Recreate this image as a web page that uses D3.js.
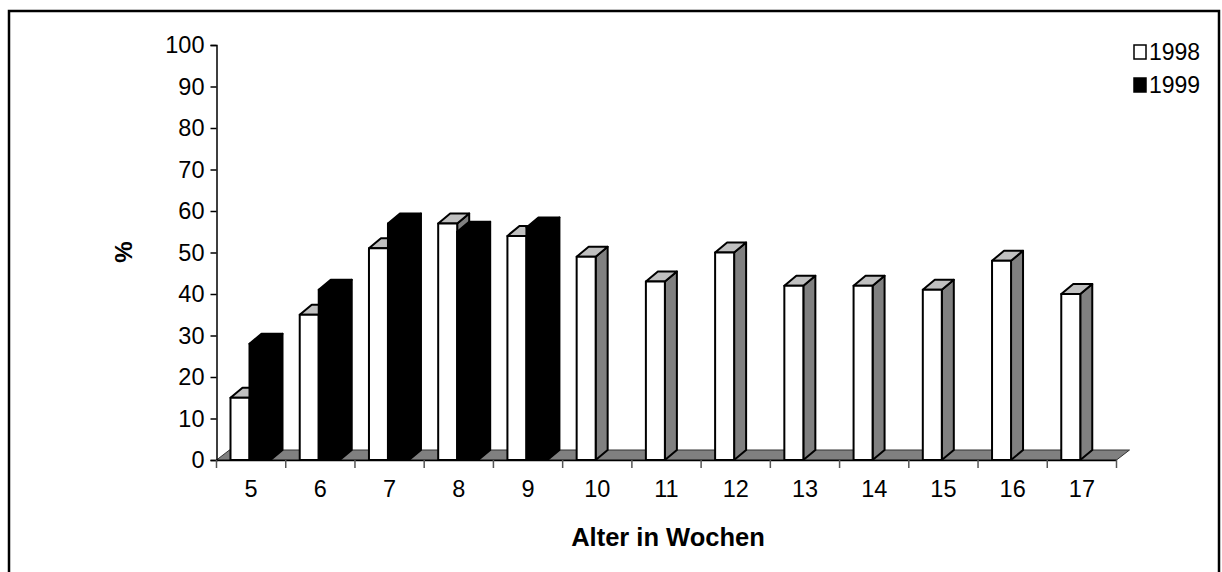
<!DOCTYPE html>
<html>
<head>
<meta charset="utf-8">
<script src="https://cdn.jsdelivr.net/npm/d3@7"></script>
<style>
  body { margin: 0; background: #fff; }
  text { font-family: Arial, "Liberation Sans", sans-serif; }
</style>
</head>
<body>
<div class="chart"></div>
<script>
var weeks = ["5", "6", "7", "8", "9", "10", "11", "12", "13", "14", "15", "16", "17"];
var values1998 = [15, 35, 51, 57, 54, 49, 43, 50, 42, 42, 41, 48, 40];
var values1999 = [28, 41, 57, 55, 56, null, null, null, null, null, null, null, null];
var yTicks = [0, 10, 20, 30, 40, 50, 60, 70, 80, 90, 100];

var width = 1222, height = 572;
var plotLeft = 216.5, plotRight = 1116.5, plotTop = 45, plotBottom = 460;
var dx = 12, dy = -10;   // 3d depth offset
var fontSize = 23.5;

var svg = d3.select('.chart')
    .append('svg')
    .attr('width', width)
    .attr('height', height);

// outer frame
svg.append('rect')
    .attr('x', 9).attr('y', 11)
    .attr('width', 1210).attr('height', 620)
    .attr('fill', 'none')
    .attr('stroke', '#000')
    .attr('stroke-width', 2.5);

var x = d3.scaleBand()
    .domain(weeks)
    .range([plotLeft, plotRight])
    .padding(0);

var y = d3.scaleLinear()
    .domain([0, 100])
    .range([plotBottom, plotTop]);

// floor
var fx = 13, fy = -10;
svg.append('path')
    .attr('d', 'M' + plotLeft + ',' + plotBottom + 'L' + (plotLeft + fx) + ',' + (plotBottom + fy) +
        'L' + (plotRight + fx) + ',' + (plotBottom + fy) + 'L' + plotRight + ',' + plotBottom + 'Z')
    .attr('fill', '#808080')
    .attr('stroke', '#333')
    .attr('stroke-width', 1);

// y axis
var yaxis = d3.axisLeft(y).tickValues(yTicks).tickSize(6).tickPadding(6);
var gy = svg.append('g')
    .attr('transform', 'translate(' + plotLeft + ',0)')
    .call(yaxis);
gy.select('.domain').attr('stroke', '#000').attr('stroke-width', 1.5);
gy.selectAll('.tick line').attr('stroke', '#000').attr('stroke-width', 1.5);
gy.selectAll('text').attr('font-size', fontSize).attr('fill', '#000');

// x axis (ticks between categories)
var xaxis = d3.axisBottom(x).tickSize(0).tickPadding(20);
var gx = svg.append('g')
    .attr('transform', 'translate(0,' + plotBottom + ')')
    .call(xaxis);
gx.select('.domain').attr('stroke', '#000').attr('stroke-width', 1.5);
gx.selectAll('text').attr('font-size', fontSize).attr('fill', '#000');
svg.append('g').selectAll('line')
    .data(weeks.concat(['end']))
    .enter()
    .append('line')
    .attr('x1', (d, i) => i < weeks.length ? x(d) : plotRight)
    .attr('x2', (d, i) => i < weeks.length ? x(d) : plotRight)
    .attr('y1', plotBottom)
    .attr('y2', plotBottom + 8)
    .attr('stroke', '#555')
    .attr('stroke-width', 1.5);

// 3d bars
function drawBar(g, x0, w, v, front, topc, side) {
    var y0 = y(v), y1 = y(0);
    g.append('path') // side
        .attr('d', 'M' + (x0 + w) + ',' + y1 + 'L' + (x0 + w + dx) + ',' + (y1 + dy) +
            'L' + (x0 + w + dx) + ',' + (y0 + dy) + 'L' + (x0 + w) + ',' + y0 + 'Z')
        .attr('fill', side);
    g.append('path') // top
        .attr('d', 'M' + x0 + ',' + y0 + 'L' + (x0 + dx) + ',' + (y0 + dy) +
            'L' + (x0 + w + dx) + ',' + (y0 + dy) + 'L' + (x0 + w) + ',' + y0 + 'Z')
        .attr('fill', topc);
    g.append('rect') // front
        .attr('x', x0).attr('y', y0)
        .attr('width', w).attr('height', y1 - y0)
        .attr('fill', front);
    g.selectAll('path, rect')
        .attr('stroke', '#000')
        .attr('stroke-width', 2)
        .attr('stroke-linejoin', 'round');
}

var bars = svg.append('g');
weeks.forEach(function(wk, i) {
    var bx = x(wk);
    var g = bars.append('g');
    drawBar(g, bx + 14, 19, values1998[i], '#fff', '#c0c0c0', '#808080');
    if (values1999[i] != null) {
        drawBar(g, bx + 33, 21, values1999[i], '#000', '#000', '#000');
    }
});

// axis titles
svg.append('text')
    .attr('transform', 'translate(132,252) rotate(-90)')
    .attr('text-anchor', 'middle')
    .attr('font-size', 24)
    .attr('font-weight', 'bold')
    .text('%');

svg.append('text')
    .attr('x', 668)
    .attr('y', 546)
    .attr('text-anchor', 'middle')
    .attr('font-size', 25.5)
    .attr('font-weight', 'bold')
    .text('Alter in Wochen');

// legend
var legend = [["1998", '#fff'], ["1999", '#000']];
var lg = svg.append('g').selectAll('g')
    .data(legend)
    .enter()
    .append('g')
    .attr('transform', (d, i) => 'translate(1134,' + (45 + i * 33) + ')');
lg.append('rect')
    .attr('width', 12).attr('height', 14)
    .attr('fill', d => d[1])
    .attr('stroke', '#000')
    .attr('stroke-width', 1.5);
lg.append('text')
    .attr('x', 15)
    .attr('y', 15)
    .attr('font-size', 23)
    .text(d => d[0]);
</script>
</body>
</html>
